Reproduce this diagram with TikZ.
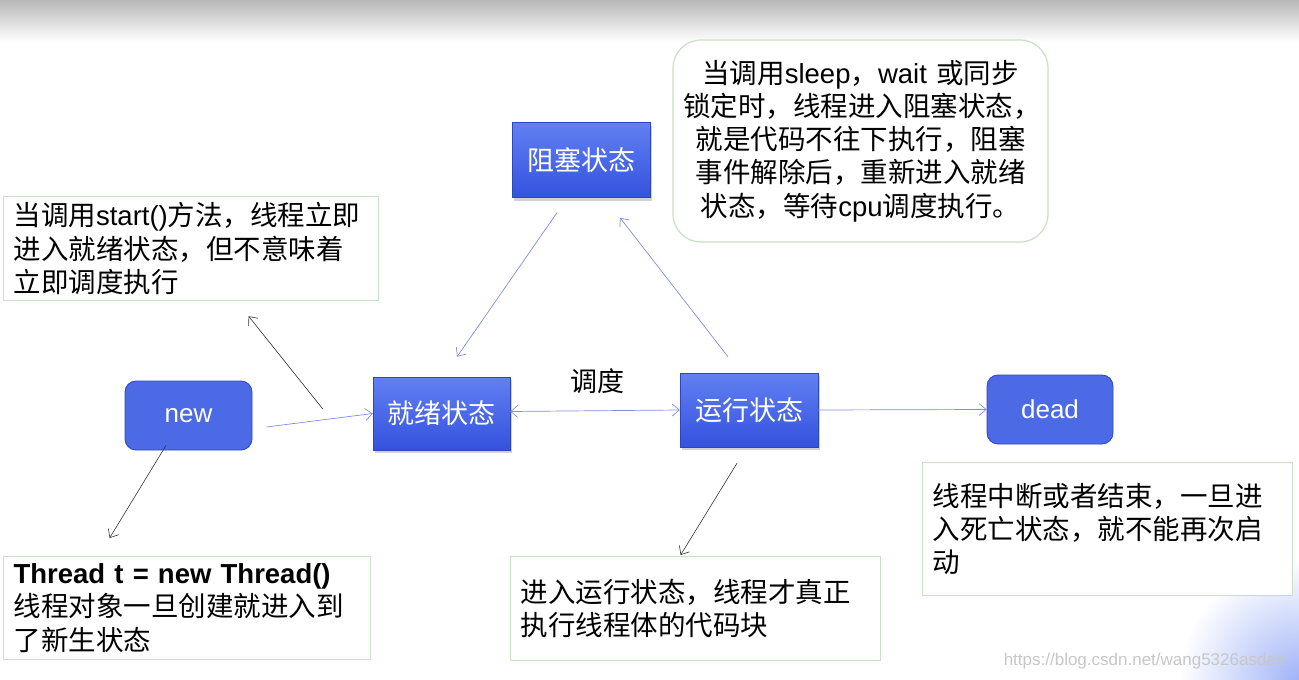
\documentclass[tikz,border=0pt]{standalone}
\usepackage{fontspec}
\setmainfont{Liberation Sans}
\newfontfamily\cjk{Noto Sans CJK SC}
\usetikzlibrary{arrows.meta,shadows,calc}
\newcommand\la[1]{{\rmfamily #1}}
\definecolor{stTop}{RGB}{98,128,242}
\definecolor{stBot}{RGB}{52,82,222}
\definecolor{termFill}{RGB}{76,106,230}
\definecolor{termDraw}{RGB}{45,70,190}
\definecolor{noteGreen}{RGB}{200,224,196}
\definecolor{flowBlue}{RGB}{128,142,225}
\begin{document}
\begin{tikzpicture}[x=1pt,y=-1pt,
  state/.style={rectangle, minimum width=138pt, minimum height=75pt, top color=stTop, bottom color=stBot, draw=stBot!85!black, line width=0.4pt, text=white, font=\cjk\fontsize{27}{30}\selectfont, drop shadow={opacity=0.35, shadow xshift=2pt, shadow yshift=-3pt}},
  term/.style={rectangle, rounded corners=11pt, minimum width=127pt, minimum height=69pt, fill=termFill, draw=termDraw, line width=0.8pt, text=white, font=\fontsize{26}{30}\selectfont},
  note/.style={rectangle, draw=noteGreen, line width=1.2pt, fill=white, inner xsep=10pt, inner ysep=0pt, align=left, font=\cjk\fontsize{27.5}{33.3}\selectfont},
  flow/.style={draw=flowBlue, line width=0.7pt, -{Straight Barb[length=7pt,width=12pt]}},
  flowboth/.style={draw=flowBlue, line width=0.7pt, {Straight Barb[length=7pt,width=12pt]}-{Straight Barb[length=7pt,width=12pt]}},
  hint/.style={draw=black!80, line width=0.6pt, -{Straight Barb[length=7pt,width=12pt]}},
]
\useasboundingbox (0,0) rectangle (1299,680);
\fill[white] (0,0) rectangle (1299,680);
\shade[top color=black!28, bottom color=white] (0,0) rectangle (1299,42);
\shade[inner color=stTop!60!white, outer color=white] (1299,680) circle (120);

% notes
\node[note, anchor=north west, text width=355pt, minimum height=104pt] (startnote) at (3,196)
  {当调用\la{start()}方法，线程立即\\进入就绪状态，但不意味着\\立即调度执行};
\node[note, rounded corners=28pt, align=center, text width=355pt, minimum height=202pt] (blocknote) at (860.5,141)
  {当调用\la{sleep}，\la{wait }或同步\\锁定时，线程进入阻塞状态，\\就是代码不往下执行，阻塞\\事件解除后，重新进入就绪\\状态，等待\la{cpu}调度执行。};
\node[note, anchor=north west, text width=347pt, minimum height=103pt] (threadnote) at (3,556)
  {\la{\bfseries Thread t = new Thread()}\\线程对象一旦创建就进入到\\了新生状态};
\node[note, anchor=north west, text width=350pt, minimum height=104pt] (runnote) at (510,556)
  {进入运行状态，线程才真正\\执行线程体的代码块};
\node[note, anchor=north west, text width=350pt, minimum height=133pt] (deadnote) at (922,462)
  {线程中断或者结束，一旦进\\入死亡状态，就不能再次启\\动};

% states
\node[state] (block) at (581,160) {阻塞状态};
\node[state, minimum width=137pt, minimum height=73pt] (ready) at (441.5,413.5) {就绪状态};
\node[state, minimum height=74pt] (run) at (749,410) {运行状态};
\node[term] (new) at (188.5,415.5) {new};
\node[term, minimum width=126pt] (dead) at (1050,409.5) {dead};
\node[font=\cjk\fontsize{27}{30}\selectfont] (sched) at (597,381) {调度};

% connectors
\draw[flow] ($(new.east)+(14,11.5)$) -- (ready.west);
\draw[flowboth] ($(ready.east)+(0,-2)$) -- (run.west);
\draw[flow] (run.east) -- (dead.west);
\draw[flow] ($(block.south)+(-24,15)$) -- ($(ready.north)+(15.5,-20)$);
\draw[flow] ($(run.north)+(-21,-16)$) -- ($(block.south)+(39,20)$);
\draw[hint] ($(ready.west)+(-50,-4.5)$) -- ($(startnote.south)+(57.5,15)$);
\draw[hint] ($(new.south)+(-22.5,-5)$) -- ($(threadnote.north)+(-77.5,-18)$);
\draw[hint] ($(run.south)+(-12,16)$) -- ($(runnote.north)+(-15,-1)$);

\node[anchor=east, text=black!22, font=\fontsize{17}{20}\selectfont] (mark) at (1288,661) {https://blog.csdn.net/wang5326asdas};
\end{tikzpicture}
\end{document}
